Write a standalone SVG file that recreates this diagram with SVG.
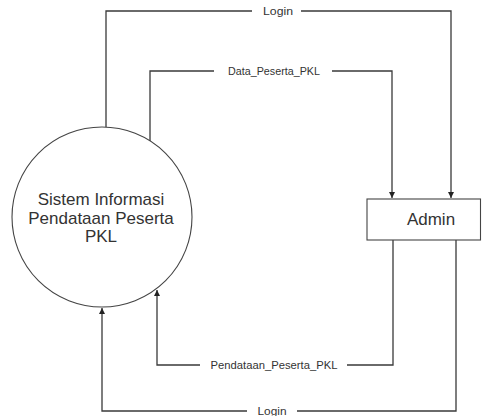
<svg xmlns="http://www.w3.org/2000/svg" width="482" height="416" viewBox="0 0 482 416">
  <style>
    .flow { fill: none; stroke: #3a3a3a; stroke-width: 1.3; }
    .node { fill: #ffffff; stroke: #444444; stroke-width: 1.1; }
    .lbl { font-family: "Liberation Sans", Arial, sans-serif; font-size: 10.5px; fill: #333333; text-anchor: middle; }
    .gap { fill: #ffffff; stroke: none; }
    .ntext { font-family: "Liberation Sans", Arial, sans-serif; font-size: 17px; fill: #333333; text-anchor: middle; }
  </style>
  <defs>
    <marker id="arr" viewBox="0 0 8 8" refX="8" refY="4" markerWidth="6" markerHeight="6" markerUnits="userSpaceOnUse" orient="auto">
      <path d="M0,0 L8,4 L0,8 Z" fill="#222222"/>
    </marker>
  </defs>
  <rect width="482" height="416" fill="#ffffff"/>

  <g id="connectors">
    <g id="login-top">
      <path class="flow" d="M106,127 V11 H451 V198" marker-end="url(#arr)"/>
      <rect class="gap" x="252" y="5" width="49" height="12"/>
      <text class="lbl" x="278" y="14.5" textLength="30" lengthAdjust="spacingAndGlyphs">Login</text>
    </g>
    <g id="data-peserta">
      <path class="flow" d="M150,141 V71 H392 V198" marker-end="url(#arr)"/>
      <rect class="gap" x="214" y="65" width="118" height="12"/>
      <text class="lbl" x="274" y="74.5" textLength="92" lengthAdjust="spacingAndGlyphs">Data_Peserta_PKL</text>
    </g>
    <g id="pendataan">
      <path class="flow" d="M393,240 V365 H157 V290" marker-end="url(#arr)"/>
      <rect class="gap" x="200" y="359" width="147" height="12"/>
      <text class="lbl" x="274" y="368.5" textLength="127" lengthAdjust="spacingAndGlyphs">Pendataan_Peserta_PKL</text>
    </g>
    <g id="login-bottom">
      <path class="flow" d="M456,240 V411 H102 V308" marker-end="url(#arr)"/>
      <rect class="gap" x="247" y="405" width="50" height="11"/>
      <text class="lbl" x="272" y="415" textLength="29" lengthAdjust="spacingAndGlyphs">Login</text>
    </g>
  </g>

  <g id="process">
    <circle class="node" cx="102" cy="217" r="90"/>
    <text class="ntext" x="101" y="205">Sistem Informasi</text>
    <text class="ntext" x="101" y="223.5">Pendataan Peserta</text>
    <text class="ntext" x="101" y="242">PKL</text>
  </g>

  <g id="admin">
    <rect class="node" x="367" y="199" width="113.5" height="41"/>
    <text class="ntext" x="431" y="225">Admin</text>
  </g>
</svg>
